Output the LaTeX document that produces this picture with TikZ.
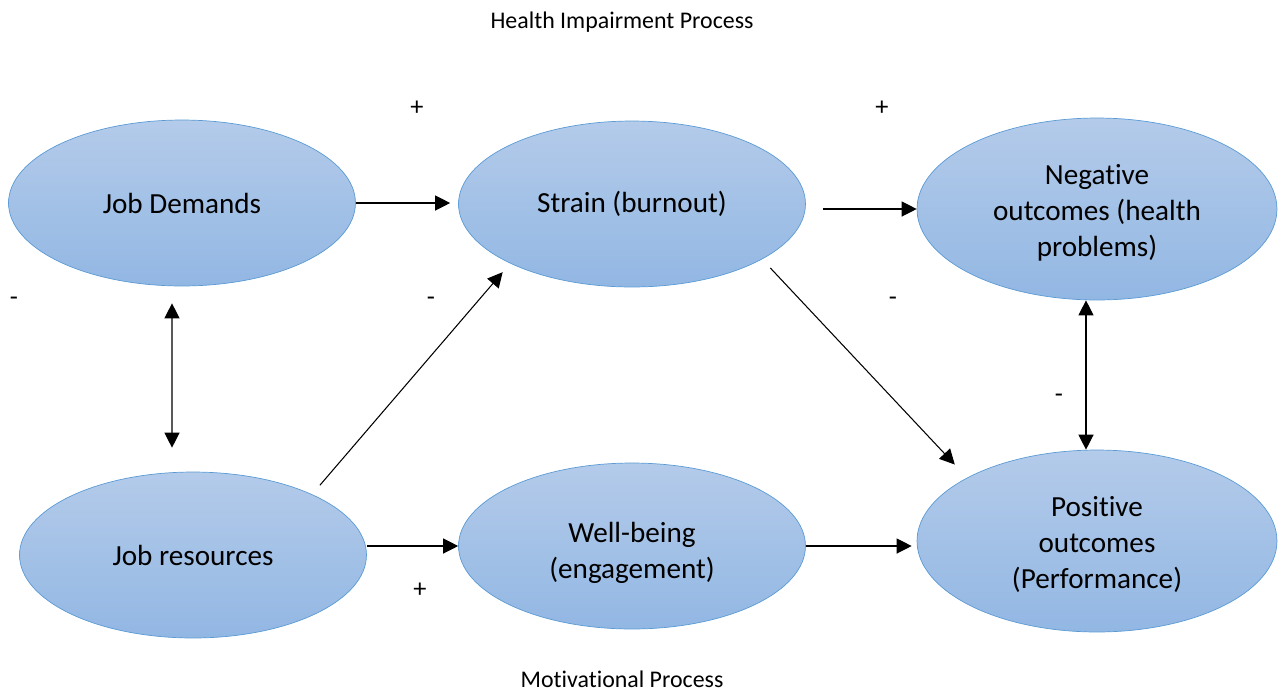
\documentclass[tikz,border=0pt]{standalone}
\usepackage{fontspec}
\setmainfont{Carlito}[Ligatures=NoCommon]
\usetikzlibrary{arrows.meta,shapes.geometric}

\definecolor{elltop}{RGB}{180,203,234}
\definecolor{ellbot}{RGB}{146,183,227}
\definecolor{ellline}{RGB}{91,155,213}

\begin{document}
\begin{tikzpicture}[x=0.02cm, y=-0.02cm,
  proc/.style={ellipse, draw=ellline, top color=elltop, bottom color=ellbot,
               inner sep=0pt, align=center, font=\fontsize{16.6}{20.4}\selectfont,
               minimum width=6.94cm, minimum height=3.32cm},
  outc/.style={proc, minimum width=7.2cm, minimum height=3.64cm},
  ptxt/.style={align=center, inner sep=0pt, font=\fontsize{16.6}{20.4}\selectfont},
  fl/.style={-{Triangle[length=0.3cm, width=0.3cm]}, line width=0.7pt},
  bfl/.style={fl, {Triangle[length=0.3cm, width=0.3cm]}-{Triangle[length=0.3cm, width=0.3cm]}},
  sgn/.style={font=\fontsize{15}{18}\selectfont, inner sep=0pt},
  ttl/.style={font=\fontsize{13.6}{16}\selectfont, inner sep=0pt}]
\useasboundingbox (0,0) rectangle (1282,691);

% top row: demands, strain, negative outcomes
\node[proc] (jd) at (182,203) {Job Demands};
\node[proc] (strain) at (632,204) {Strain (burnout)};
\node[outc, label={[ptxt, yshift=-0.08cm]center:{Negative\\ outcomes (health\\ problems)}}]
  (neg) at (1097,209) {};

% bottom row: resources, well-being, positive outcomes
\node[proc] (jr) at (193,555) {Job resources};
\node[proc, label={[ptxt, yshift=-0.14cm]center:{Well-being\\ (engagement)}}]
  (wb) at (632,546) {};
\node[outc, label={[ptxt, yshift=-0.07cm]center:{Positive\\ outcomes\\ (Performance)}}]
  (pos) at (1097,541) {};

% arrows
\draw[fl, shorten >=0.16cm] (jd.east) -- (jd.east -| strain.west);
\draw[fl, shorten <=0.34cm] (neg.west -| strain.east) -- (neg.west);
\draw[fl] (wb.west -| jr.east) -- (wb.west);
\draw[fl, shorten >=0.1cm] (wb.east) -- (wb.east -| pos.west);
\draw[fl, line width=0.6pt, shorten <=0.24cm, shorten >=0.23cm] (jr.27.5) -- (strain.206);
\draw[fl, line width=0.6pt, shorten <=0.24cm, shorten >=0.36cm] (strain.-23) -- (pos.154);
\draw[bfl, shorten <=0.34cm, shorten >=0.48cm] ([xshift=-0.2cm]jd.south) -- ([xshift=-0.42cm]jr.north);
\draw[bfl] ([xshift=-0.22cm]neg.south) -- ([xshift=-0.22cm]pos.north);

% signs
\node[sgn] (p1) at (417,108) {+};
\node[sgn] (p2) at (882,108) {+};
\node[sgn] (p3) at (420,590) {+};
\node[sgn] (m1) at (14,301) {-};
\node[sgn] (m2) at (431,301) {-};
\node[sgn] (m3) at (893,301) {-};
\node[sgn] (m4) at (1059,398) {-};

% process titles
\node[ttl] (hip) at (622,22) {Health Impairment Process};
\node[ttl] (mp) at (622,679) {Motivational Process};
\end{tikzpicture}
\end{document}
